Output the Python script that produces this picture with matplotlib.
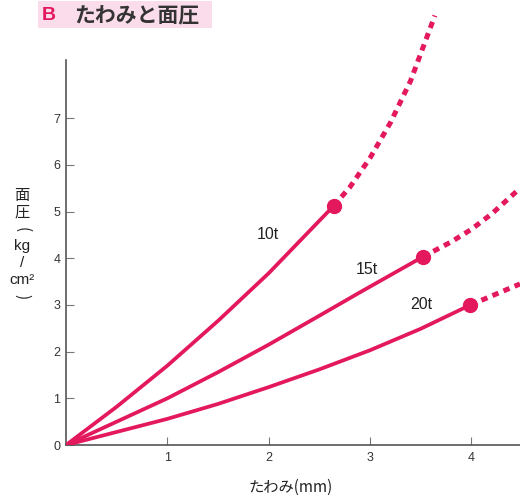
import numpy as np
import matplotlib.pyplot as plt
from matplotlib.patches import Rectangle

plt.rcParams['font.family'] = ['Noto Sans CJK JP', 'DejaVu Sans']

# 荷重ごとのたわみ-面圧曲線 (実線部)
x_10t = [0, 0.5, 1.0, 1.5, 2.0, 2.64]
y_10t = [0, 0.82, 1.70, 2.66, 3.68, 5.12]
x_15t = [0, 1.0, 1.5, 2.0, 2.5, 2.9, 3.52]
y_15t = [0, 1.00, 1.56, 2.15, 2.77, 3.27, 4.03]
x_20t = [0, 1.0, 1.5, 2.0, 2.5, 3.0, 3.5, 3.99]
y_20t = [0, 0.56, 0.88, 1.24, 1.62, 2.03, 2.49, 3.00]

# 点線部 (外挿)
xd_10t = [2.64, 2.8, 3.0, 3.2, 3.4, 3.64]
yd_10t = [5.12, 5.52, 6.15, 6.90, 7.80, 9.20]
xd_15t = [3.52, 3.8, 4.0, 4.2, 4.48]
yd_15t = [4.03, 4.35, 4.62, 4.95, 5.50]
xd_20t = [3.99, 4.48]
yd_20t = [3.00, 3.45]

etiquetas = ['10t', '15t', '20t']
pos_etiq = [(1.99, 4.5), (2.97, 3.75), (3.51, 3.0)]

xticks = [1, 2, 3, 4]
yticks = [0, 1, 2, 3, 4, 5, 6, 7]

col = '#e3185d'
letra = 'Liberation Sans'

fig = plt.figure(figsize=(5.2, 4.95), dpi=100)
ax = fig.add_axes([0.127, 0.101, 0.873, 0.877])

for xs, ys in [(x_10t, y_10t), (x_15t, y_15t), (x_20t, y_20t)]:
    ax.plot(xs, ys, color=col, lw=2.7, solid_capstyle='round', solid_joinstyle='round', zorder=3)
    ax.plot(xs[-1], ys[-1], 'o', color=col, ms=10, zorder=4)

for xs, ys in [(xd_10t, yd_10t), (xd_15t, yd_15t), (xd_20t, yd_20t)]:
    ax.plot(xs, ys, color=col, lw=3.6, linestyle=(0, (1.3, 1.1)), clip_on=False, zorder=3)

for t, (tx, ty) in zip(etiquetas, pos_etiq):
    ax.text(tx, ty, t, fontsize=11.5, ha='center', va='center', color='#222222',
            family=letra)

ax.set_xlim(0, 4.48)
ax.set_ylim(0, 9.3)
ax.spines['top'].set_visible(False)
ax.spines['right'].set_visible(False)
ax.spines['left'].set_bounds(0, 8.24)
for s in ['left', 'bottom']:
    ax.spines[s].set_color('#555555')
    ax.spines[s].set_linewidth(1.2)

ax.set_xticks(xticks)
ax.set_yticks(yticks)
ax.tick_params(direction='in', length=6, width=0.8, color='#777777',
               labelsize=9, labelcolor='#333333')
ax.tick_params(axis='x', pad=5)
ax.tick_params(axis='y', pad=4)
ax.set_xticklabels([str(v) for v in xticks], family=letra)
ax.set_yticklabels([str(v) for v in yticks], family=letra)

fig.text(0.558, 0.016, 'たわみ(mm)', fontsize=11, ha='center', va='center', color='#222222')

# 縦書きの軸ラベル
partes = ['面', '圧', '(', 'kg', '/', 'cm²', ')']
giros = [0, 0, -90, 0, 0, 0, -90]
y0 = 0.605
for i, (p, r) in enumerate(zip(partes, giros)):
    fig.text(0.042, y0 - i * 0.034, p, fontsize=11, ha='center', va='center',
             color='#222222', rotation=r, family=(letra if p in ['kg', 'cm²', '/'] else None))

# タイトル
fig.patches.append(Rectangle((0.073, 0.943), 0.335, 0.054, transform=fig.transFigure,
                             facecolor='#fbdcea', edgecolor='none'))
fig.text(0.08, 0.968, 'B', fontsize=14, color=col, ha='left', va='center', weight='bold',
         family=letra)
fig.text(0.142, 0.968, 'たわみと面圧', fontsize=15, color='#333333', ha='left', va='center',
         weight='bold')

plt.savefig('out.png')
